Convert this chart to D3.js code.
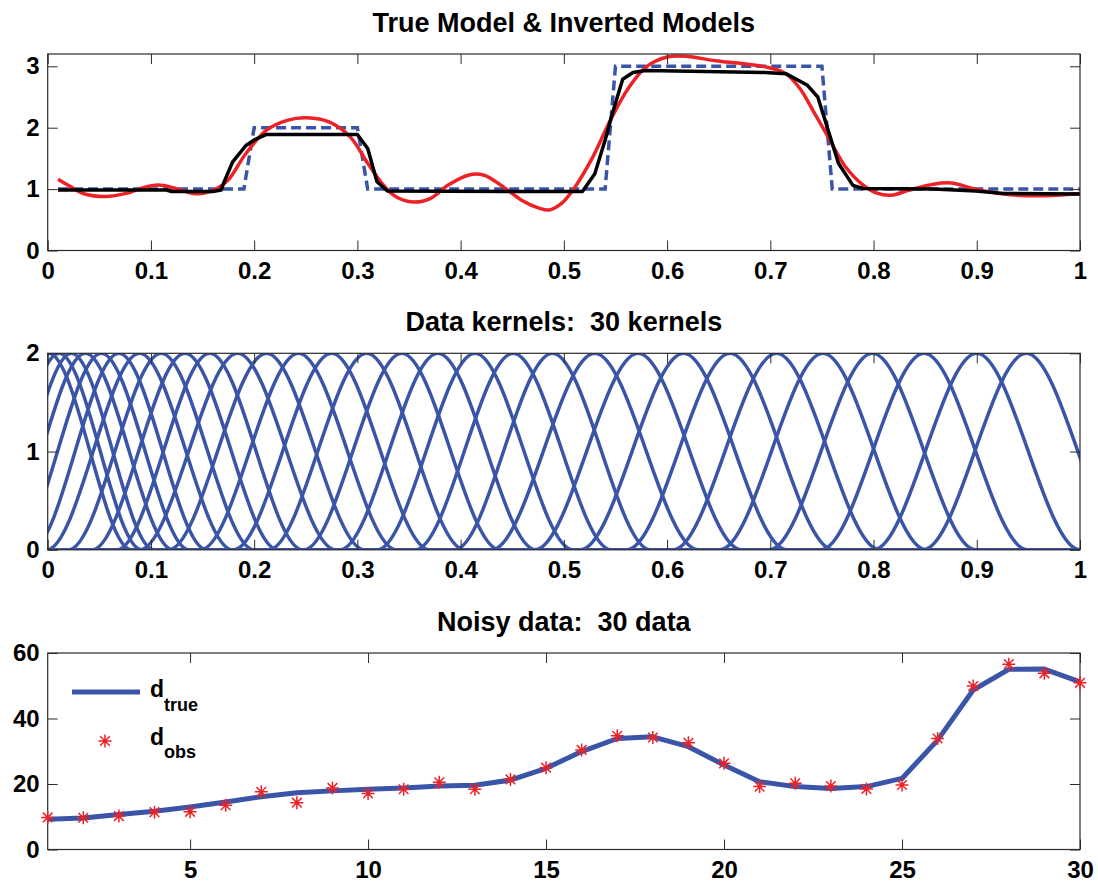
<!DOCTYPE html>
<html><head><meta charset="utf-8">
<script src="https://cdn.jsdelivr.net/npm/d3@7"></script>
<style>
body{margin:0;background:#fff}
text{font-family:"Liberation Sans",Arial,Helvetica,sans-serif;font-weight:bold;fill:#000;white-space:pre}
</style>
</head><body>
<svg id="c" width="1098" height="885"></svg>
<script>
// ---------- Panel 1: models ----------
const trueX = [0.01,0.19,0.2,0.3,0.31,0.54,0.55,0.75,0.76,1.0];
const trueY = [1,1,2,2,1,1,3,3,1,1];

const blackX = [0.01,0.115,0.12,0.16,0.168,0.171,0.179,0.192,0.2,0.212,0.276,0.3,0.31,0.319,0.329,0.484,0.518,0.53,0.54,0.547,0.557,0.567,0.579,0.695,0.715,0.736,0.746,0.756,0.766,0.78,0.79,0.858,0.899,0.926,1.0];
const blackY = [0.985,0.985,0.96,0.96,0.985,1.12,1.44,1.71,1.8,1.89,1.89,1.89,1.66,1.12,0.97,0.96,0.96,1.25,1.8,2.23,2.79,2.9,2.93,2.9,2.88,2.69,2.5,1.96,1.42,1.06,1.01,1.0,0.97,0.93,0.92];

const redX = [0.01,0.022,0.036,0.056,0.076,0.09,0.107,0.124,0.141,0.151,0.164,0.175,0.192,0.212,0.232,0.251,0.273,0.293,0.31,0.324,0.337,0.354,0.371,0.388,0.408,0.422,0.439,0.459,0.476,0.486,0.498,0.511,0.528,0.545,0.562,0.579,0.6,0.62,0.647,0.674,0.698,0.715,0.729,0.743,0.756,0.773,0.79,0.804,0.817,0.834,0.858,0.875,0.899,0.926,0.96,1.0];
const redY = [1.16,1.04,0.92,0.88,0.93,1.01,1.065,1.01,0.93,0.93,1.01,1.15,1.58,1.96,2.12,2.16,2.09,1.85,1.42,1.09,0.88,0.79,0.85,1.065,1.23,1.23,1.065,0.82,0.69,0.66,0.77,1.04,1.52,2.12,2.63,2.98,3.15,3.16,3.09,3.04,2.98,2.88,2.63,2.23,1.85,1.36,1.065,0.93,0.9,0.98,1.08,1.1,1.0,0.92,0.89,0.93];

const kernelCenter = [0.001,0.011,0.023,0.0365,0.052,0.069,0.089,0.110,0.133,0.157,0.184,0.212,0.243,0.275,0.309,0.343,0.378,0.414,0.451,0.489,0.530,0.572,0.616,0.661,0.706,0.751,0.799,0.849,0.900,0.948];
const kernelHalfWidth = [0.08,0.08,0.08,0.085,0.085,0.085,0.09,0.09,0.09,0.09,0.095,0.095,0.095,0.095,0.095,0.095,0.095,0.095,0.095,0.095,0.1,0.1,0.1,0.1,0.1,0.1,0.1,0.1,0.1,0.1];
const kernelPeak = 2;

// ---------- Panel 3: data ----------
const dataIndex = [1,2,3,4,5,6,7,8,9,10,11,12,13,14,15,16,17,18,19,20,21,22,23,24,25,26,27,28,29,30];
const dTrue = [9.2,9.6,10.7,11.7,13.0,14.5,16.1,17.3,17.9,18.4,18.8,19.4,19.6,21.2,24.8,29.9,33.9,34.4,31.4,25.8,20.7,19.2,18.6,19.2,21.7,33.4,48.7,55.0,55.1,51.2];
const dObs  = [9.8,9.7,10.2,11.4,11.5,13.5,17.6,14.3,18.8,17.1,18.4,20.5,18.4,21.4,25.0,30.4,34.7,34.2,32.6,26.3,19.2,20.2,19.4,18.5,19.7,33.9,49.9,56.6,53.8,50.9];

// ---------- ticks / titles ----------
const unitTicks = [0,0.1,0.2,0.3,0.4,0.5,0.6,0.7,0.8,0.9,1];
const p1YTicks = [0,1,2,3];
const p2YTicks = [0,1,2];
const p3XTicks = [5,10,15,20,25,30];
const p3YTicks = [0,20,40,60];
const titles = ["True Model & Inverted Models","Data kernels:  30 kernels","Noisy data:  30 data"];

// ---------- layout ----------
const svg = d3.select("#c");
svg.append("rect").attr("width",1098).attr("height",885).attr("fill","#fff");
const L = 47.7, R = 1080, H = 196.5;
const tops = [54, 353.3, 653];
const BLUE = "#3a55a8", RED = "#ec2227", AX = "#2b2b2b";
const fmtUnit = d => String(+d.toFixed(1));

function panel(i, xDom, yDom, xTicks, yTicks, xFmt) {
  const top = tops[i];
  const x = d3.scaleLinear().domain(xDom).range([L, R]);
  const y = d3.scaleLinear().domain(yDom).range([top + H, top]);
  const g = svg.append("g");
  const clipId = "clip" + i;
  svg.append("clipPath").attr("id", clipId).append("rect")
    .attr("x", L).attr("y", top).attr("width", R - L).attr("height", H);
  const plot = g.append("g").attr("clip-path", `url(#${clipId})`);
  const axes = g.append("g");
  function style(sel) {
    sel.select(".domain").remove();
    sel.selectAll(".tick line").attr("stroke", AX).attr("stroke-width", 1);
    sel.selectAll("text").style("font-size", "24px").style("font-weight", "bold")
      .attr("fill", "#000");
  }
  axes.append("g").attr("transform", `translate(0,${top + H})`)
    .call(d3.axisBottom(x).tickValues(xTicks).tickFormat(xFmt).tickSizeInner(-10).tickSizeOuter(0).tickPadding(11))
    .call(style);
  axes.append("g").attr("transform", `translate(0,${top})`)
    .call(d3.axisTop(x).tickValues(xTicks).tickFormat("").tickSizeInner(-10).tickSizeOuter(0))
    .call(style);
  axes.append("g").attr("transform", `translate(${L},0)`)
    .call(d3.axisLeft(y).tickValues(yTicks).tickFormat(d3.format("d")).tickSizeInner(-10).tickSizeOuter(0).tickPadding(8))
    .call(style);
  axes.append("g").attr("transform", `translate(${R},0)`)
    .call(d3.axisRight(y).tickValues(yTicks).tickFormat("").tickSizeInner(-10).tickSizeOuter(0))
    .call(style);
  axes.append("rect").attr("x", L).attr("y", top).attr("width", R - L).attr("height", H)
    .attr("fill", "none").attr("stroke", AX).attr("stroke-width", 1.2);
  svg.append("text").attr("x", (L + R) / 2).attr("y", top - 22)
    .attr("text-anchor", "middle").attr("xml:space", "preserve")
    .style("font-size", "27px").text(titles[i]);
  return {x, y, plot, axes};
}

// Panel 1
{
  const {x, y, plot} = panel(0, [0, 1], [0, 3.2], unitTicks, p1YTicks, fmtUnit);
  const line = d3.line().x(d => x(d[0])).y(d => y(d[1]));
  plot.append("path").datum(d3.zip(trueX, trueY)).attr("d", line)
    .attr("fill", "none").attr("stroke", BLUE).attr("stroke-width", 3.5).attr("stroke-dasharray", "10,5");
  plot.append("path").datum(d3.zip(redX, redY))
    .attr("d", line.curve(d3.curveCatmullRom.alpha(0.5)))
    .attr("fill", "none").attr("stroke", RED).attr("stroke-width", 3.5);
  plot.append("path").datum(d3.zip(blackX, blackY))
    .attr("d", d3.line().x(d => x(d[0])).y(d => y(d[1])))
    .attr("fill", "none").attr("stroke", "#000").attr("stroke-width", 3.5).attr("stroke-linejoin", "round");
}

// Panel 2
{
  const {x, y, plot} = panel(1, [0, 1], [0, 2], unitTicks, p2YTicks, fmtUnit);
  const line = d3.line().x(d => x(d[0])).y(d => y(d[1])).curve(d3.curveMonotoneX);
  kernelCenter.forEach((c, k) => {
    const h = kernelHalfWidth[k];
    const pts = [[Math.min(-0.2, c - h - 0.01), 0], [c - h, 0], [c, kernelPeak], [c + h, 0], [Math.max(1.2, c + h + 0.01), 0]];
    plot.append("path").datum(pts).attr("d", line)
      .attr("fill", "none").attr("stroke", BLUE).attr("stroke-width", 3.5);
  });
}

// Panel 3
{
  const {x, y, plot} = panel(2, [1, 30], [0, 60], p3XTicks, p3YTicks, d3.format("d"));
  plot.append("path").datum(d3.zip(dataIndex, dTrue))
    .attr("d", d3.line().x(d => x(d[0])).y(d => y(d[1])))
    .attr("fill", "none").attr("stroke", BLUE).attr("stroke-width", 5).attr("stroke-linejoin", "round");
  const r = 6.5, a = 4.8;
  const star = `M${-r},0H${r}M0,${-r}V${r}M${-a},${-a}L${a},${a}M${-a},${a}L${a},${-a}`;
  svg.append("g").selectAll("path").data(d3.zip(dataIndex, dObs)).join("path")
    .attr("transform", d => `translate(${x(d[0])},${y(d[1])})`)
    .attr("d", star).attr("fill", "none").attr("stroke", RED).attr("stroke-width", 1.5);
  // legend
  const lg = svg.append("g");
  lg.append("line").attr("x1", 72).attr("x2", 140).attr("y1", 692).attr("y2", 692)
    .attr("stroke", BLUE).attr("stroke-width", 5);
  const t1 = lg.append("text").attr("x", 150).attr("y", 697).style("font-size", "23px");
  t1.append("tspan").text("d");
  t1.append("tspan").attr("dy", 14).style("font-size", "18px").text("true");
  lg.append("path").attr("transform", "translate(105,741)").attr("d", star)
    .attr("fill", "none").attr("stroke", RED).attr("stroke-width", 1.5);
  const t2 = lg.append("text").attr("x", 150).attr("y", 745).style("font-size", "23px");
  t2.append("tspan").text("d");
  t2.append("tspan").attr("dy", 13).style("font-size", "18px").text("obs");
}
</script>
</body></html>
